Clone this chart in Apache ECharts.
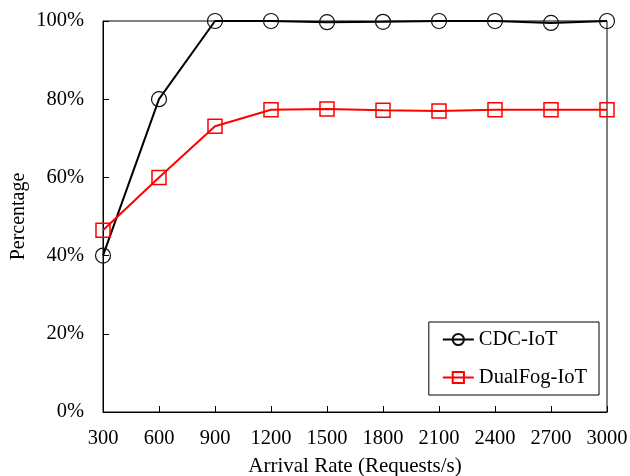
<!DOCTYPE html>
<html><head><meta charset="utf-8">
<script src="https://cdn.jsdelivr.net/npm/echarts@6/dist/echarts.min.js"></script>
<style>html,body{margin:0;padding:0;background:#fff}#c{width:630px;height:476px}</style>
</head><body><div id="c"></div>
<script>
const categories = ['300','600','900','1200','1500','1800','2100','2400','2700','3000'];
const cdcIoT = [40, 80, 100, 100, 99.7, 99.8, 100, 100, 99.5, 100];
const dualFogIoT = [46.5, 60, 73.1, 77.3, 77.5, 77.2, 77.0, 77.3, 77.3, 77.3];
const yTicks = [0, 20, 40, 60, 80, 100];

const font = 'Liberation Serif';
const chart = echarts.init(document.getElementById('c'));
chart.setOption({
  animation: false,
  grid: {left: 103, right: 23, top: 21, bottom: 64, show: true, borderColor: '#000', borderWidth: 1,
    containLabel: false, outerBoundsMode: 'none'},
  legend: {
    right: 31, top: 322, orient: 'vertical', itemGap: 17,
    backgroundColor: '#fff', borderColor: '#000', borderWidth: 1, padding: [7, 12, 7, 13],
    itemWidth: 31, itemHeight: 14,
    textStyle: {fontFamily: font, fontSize: 20.5, color: '#000'},
    data: ['CDC-IoT', 'DualFog-IoT']
  },
  xAxis: {
    type: 'category', data: categories, boundaryGap: false,
    name: 'Arrival Rate (Requests/s)', nameLocation: 'middle', nameGap: 44, nameMoveOverlap: false,
    nameTextStyle: {fontFamily: font, fontSize: 21, color: '#000'},
    axisLine: {lineStyle: {color: '#000', width: 1}},
    axisTick: {inside: true, length: 6, lineStyle: {color: '#000'}},
    axisLabel: {fontFamily: font, fontSize: 20.5, color: '#000', margin: 16},
    splitLine: {show: false}
  },
  yAxis: {
    type: 'value', min: 0, max: 100, interval: 20,
    name: 'Percentage', nameLocation: 'middle', nameGap: 74, nameMoveOverlap: false,
    nameTextStyle: {fontFamily: font, fontSize: 20, color: '#000'},
    axisLine: {show: true, lineStyle: {color: '#000', width: 1}},
    axisTick: {show: true, inside: true, length: 6, lineStyle: {color: '#000'}},
    axisLabel: {fontFamily: font, fontSize: 20.5, color: '#000', margin: 19,
      formatter: v => yTicks.includes(v) ? v + '%' : ''},
    splitLine: {show: false}
  },
  series: [
    {name: 'CDC-IoT', type: 'line', data: cdcIoT, symbol: 'circle', symbolSize: 15,
      lineStyle: {color: '#000', width: 2},
      itemStyle: {color: 'rgba(0,0,0,0)', borderColor: '#111', borderWidth: 1.2}},
    {name: 'DualFog-IoT', type: 'line', data: dualFogIoT, symbol: 'rect', symbolSize: 14,
      lineStyle: {color: '#ff0000', width: 2},
      itemStyle: {color: 'rgba(0,0,0,0)', borderColor: '#ff0000', borderWidth: 1.5}}
  ]
});
</script></body></html>
